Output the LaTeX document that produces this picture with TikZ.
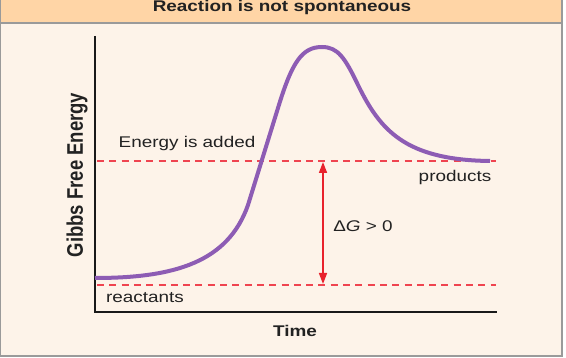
\documentclass[tikz,border=0pt]{standalone}
\usepackage{fontspec}
\setmainfont{Liberation Sans}
\usetikzlibrary{arrows.meta}
\definecolor{titlebg}{HTML}{FFD5A6}
\definecolor{panelbg}{HTML}{FDF3E9}
\definecolor{framegray}{HTML}{9A9A9A}
\definecolor{curvepurple}{HTML}{8D5CB4}
\definecolor{dashred}{HTML}{EF4450}
\definecolor{arrowred}{HTML}{E8222C}
\definecolor{textdark}{HTML}{222222}
\newcommand{\hstretch}[1]{\scalebox{1.22}[1]{#1}}
\begin{document}
\begin{tikzpicture}[x=1pt,y=-1pt,
  lbl/.style={inner sep=0pt, text=textdark, font=\fontsize{15.5}{18}\selectfont},
  boldlbl/.style={inner sep=0pt, text=textdark, font=\fontsize{15.5}{18}\selectfont\bfseries},
  axisline/.style={line width=2pt, black!90},
  levelline/.style={dashred, line width=1.8pt, dash pattern=on 7pt off 5.3pt},
  curveline/.style={curvepurple, line width=4pt},
  dgarrow/.style={arrowred, line width=1.6pt, {Triangle[length=11pt,width=8pt]}-{Triangle[length=11pt,width=8pt]}}
]
\useasboundingbox (0,0) rectangle (566,358);
\fill[white] (0,0) rectangle (566,358);
\fill[panelbg] (0,0) rectangle (562,356);
\fill[titlebg] (0,0) rectangle (562,23);
\draw[framegray, line width=2pt] (0,23) -- (562,23);
\draw[framegray, line width=1.5pt] (0.5,-2) -- (0.5,356);
\draw[framegray, line width=2pt] (0,356) -- (562,356) -- (562,-2);

% title
\begin{scope}
\clip (0,0) rectangle (562,23);
\node[boldlbl, anchor=base] (title) at (282,11.5) {\hstretch{Reaction is not spontaneous}};
\end{scope}

% axes
\coordinate (ytop) at (95,36);
\coordinate (origin) at (95,312);
\coordinate (xend) at (497,312);
\draw[axisline] (ytop) -- (origin) -- (xend);

% level lines
\coordinate (prodL) at (97,161);
\coordinate (prodR) at (496,161);
\coordinate (reacL) at (97,285);
\coordinate (reacR) at (496,285);
\draw[levelline] (prodL) -- (prodR);
\draw[levelline] (reacL) -- (reacR);

% curve
\draw[curveline] (95,278) .. controls (175,278) and (228,262) .. (248,205)
  -- (278,108) .. controls (292,62) and (302,47) .. (322,47)
  .. controls (338,47) and (345,58) .. (358,85)
  .. controls (380,130) and (405,160) .. (490,161);

% delta G arrow
\coordinate (dgtop) at (323,162);
\coordinate (dgbot) at (323,284);
\draw[dgarrow] (dgtop) -- (dgbot);

% labels
\node[lbl] (added) at (187,143) {\hstretch{Energy is added}};
\node[lbl] (products) at (455,177) {\hstretch{products}};
\node[lbl] (dg) at (363,226) {\hstretch{Δ\textit{G} > 0}};
\node[lbl] (reactants) at (145,298) {\hstretch{reactants}};
\node[boldlbl] (time) at (295,331) {\hstretch{Time}};
\node[inner sep=0pt, text=textdark, rotate=90] (ylab) at (77,175)
  {\scalebox{1}[1.22]{\fontsize{18.5}{20}\selectfont\bfseries Gibbs Free Energy}};
\end{tikzpicture}
\end{document}
